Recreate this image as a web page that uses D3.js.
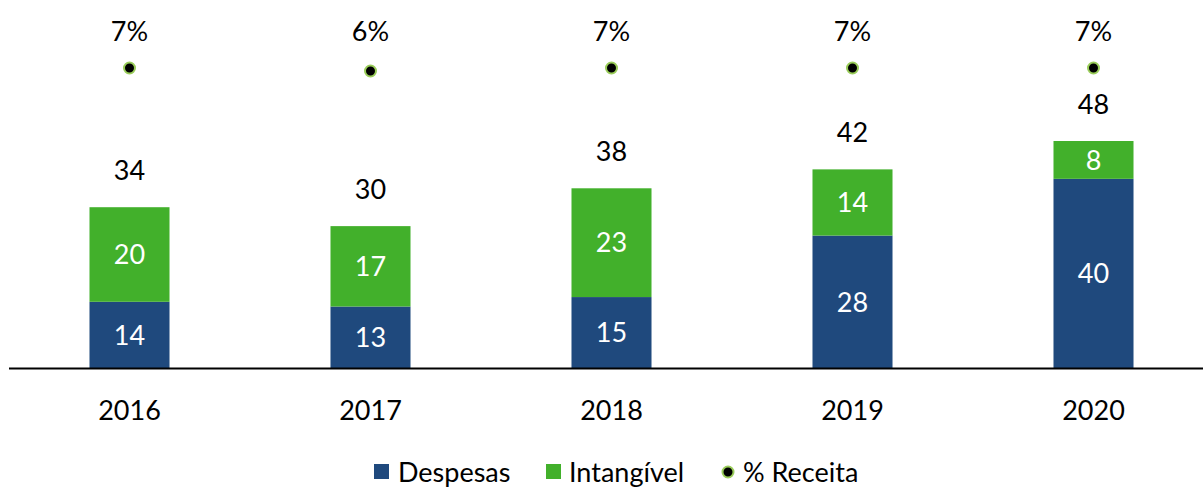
<!DOCTYPE html>
<html><head><meta charset="utf-8">
<script src="https://cdn.jsdelivr.net/npm/d3@7"></script>
<style>body{margin:0;background:#fff}svg{display:block}text{font-family:Lato,"Open Sans",sans-serif}</style>
</head><body><svg id="c" width="1203" height="488"></svg>
<script>
const years = ["2016","2017","2018","2019","2020"];
const despesas = [14,13,15,28,40];
const intangivel = [20,17,23,14,8];
const totals = [34,30,38,42,48];
const receitaPct = [7,6,7,7,7];
const pctLabels = ["7%","6%","7%","7%","7%"];
const legendLabels = ["Despesas","Intangível","% Receita"];

const BLUE = "#1f497d", GREEN = "#42b02b";
const svg = d3.select("#c");
const x = d3.scaleBand().domain(years).range([9,1214]).paddingInner(0.668).paddingOuter(0.334);
const y = d3.scaleLinear().domain([0,48]).range([368,141]);
const y2 = d3.scaleLinear().domain([6,7]).range([71,68]);
const fs = 27;

years.forEach((yr,i)=>{
  const bx = x(yr), bw = x.bandwidth(), cx = bx+bw/2;
  svg.append("rect").attr("x",bx).attr("width",bw).attr("y",y(despesas[i])).attr("height",y(0)-y(despesas[i])).attr("fill",BLUE);
  svg.append("rect").attr("x",bx).attr("width",bw).attr("y",y(despesas[i]+intangivel[i])).attr("height",y(despesas[i])-y(despesas[i]+intangivel[i])).attr("fill",GREEN);
  svg.append("text").attr("x",cx).attr("y",(y(despesas[i])+y(0))/2).attr("dy","0.36em").attr("text-anchor","middle").attr("fill","#fff").attr("font-size",fs).text(despesas[i]);
  svg.append("text").attr("x",cx).attr("y",(y(despesas[i]+intangivel[i])+y(despesas[i]))/2).attr("dy","0.36em").attr("text-anchor","middle").attr("fill","#fff").attr("font-size",fs).text(intangivel[i]);
  svg.append("text").attr("x",cx).attr("y",y(totals[i])-37).attr("dy","0.36em").attr("text-anchor","middle").attr("fill","#000").attr("font-size",fs).text(totals[i]);
  svg.append("circle").attr("cx",cx).attr("cy",y2(receitaPct[i])).attr("r",5.5).attr("fill","#000").attr("stroke","#9acd5a").attr("stroke-width",2);
  svg.append("text").attr("x",cx).attr("y",31).attr("dy","0.36em").attr("text-anchor","middle").attr("fill","#000").attr("font-size",fs).text(pctLabels[i]);
  svg.append("text").attr("x",cx).attr("y",410).attr("dy","0.36em").attr("text-anchor","middle").attr("fill","#000").attr("font-size",fs).text(yr);
});
svg.append("line").attr("x1",9).attr("x2",1203).attr("y1",368.5).attr("y2",368.5).attr("stroke","#000").attr("stroke-width",2);

// legend
const lg = svg.append("g").attr("font-size",27);
lg.append("rect").attr("x",374).attr("y",464).attr("width",15).attr("height",15).attr("fill",BLUE);
lg.append("text").attr("x",398).attr("y",472).attr("dy","0.36em").text(legendLabels[0]);
lg.append("rect").attr("x",546).attr("y",464).attr("width",15).attr("height",15).attr("fill",GREEN);
lg.append("text").attr("x",569).attr("y",472).attr("dy","0.36em").text(legendLabels[1]);
lg.append("circle").attr("cx",728).attr("cy",472).attr("r",5.5).attr("fill","#000").attr("stroke","#9acd5a").attr("stroke-width",2);
lg.append("text").attr("x",743).attr("y",472).attr("dy","0.36em").text(legendLabels[2]);
</script></body></html>
